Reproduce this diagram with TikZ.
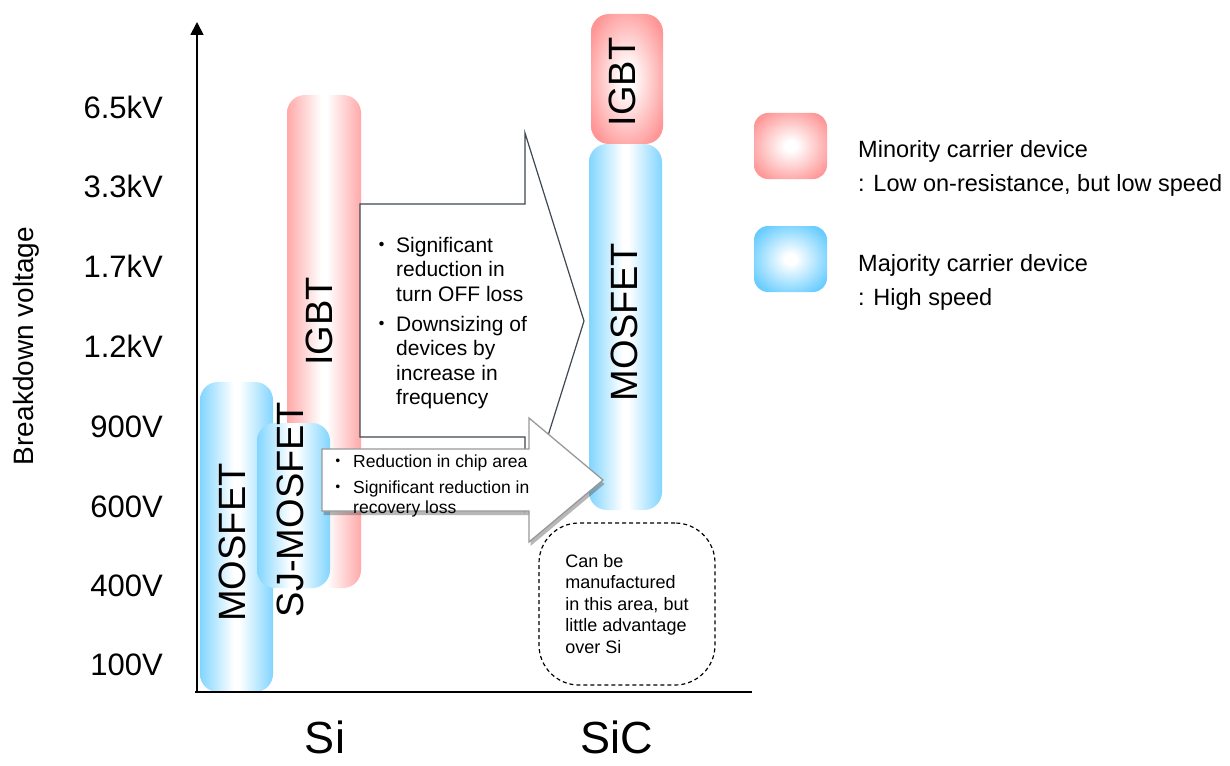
\documentclass[tikz,border=0pt]{standalone}
\usepackage{fontspec}
\setmainfont{Liberation Sans}
\newfontfamily\cjk{Noto Sans CJK JP}
\usetikzlibrary{arrows.meta,shadows}
\definecolor{pk}{RGB}{255,150,150}
\definecolor{bl}{RGB}{102,204,255}
\definecolor{arrowline}{RGB}{64,72,82}
\pgfdeclarehorizontalshading{pinkbar}{100bp}{color(0bp)=(pk); color(20bp)=(pk); color(48bp)=(white); color(52bp)=(white); color(80bp)=(pk); color(100bp)=(pk)}
\pgfdeclarehorizontalshading{bluebar}{100bp}{color(0bp)=(bl); color(20bp)=(bl); color(48bp)=(white); color(52bp)=(white); color(80bp)=(bl); color(100bp)=(bl)}
\pgfdeclareradialshading{pinkglow}{\pgfpoint{0bp}{0bp}}{color(0bp)=(white); color(4bp)=(white); color(30bp)=(pk); color(72bp)=(pk)}
\pgfdeclareradialshading{blueglow}{\pgfpoint{0bp}{0bp}}{color(0bp)=(white); color(4bp)=(white); color(30bp)=(bl); color(72bp)=(bl)}
\newcommand\rows[1]{\begin{tabular}[t]{@{}l@{}l@{}}#1\end{tabular}}
\begin{document}
\begin{tikzpicture}[x=1pt,y=-1pt,
  pinkbarstyle/.style={shade, shading=pinkbar, rounded corners=18pt, inner sep=0pt},
  bluebarstyle/.style={shade, shading=bluebar, rounded corners=18pt, inner sep=0pt},
  barlabel/.style={rotate=90, anchor=base, inner sep=0pt, font=\fontsize{38}{40}\selectfont},
  ticklabel/.style={anchor=base east, inner sep=0pt, font=\fontsize{31}{34}\selectfont},
  matlabel/.style={anchor=base, inner sep=0pt, font=\fontsize{45}{50}\selectfont},
  bigarrowstyle/.style={fill=white, draw=arrowline, line width=1.2pt, line join=miter},
  smallarrowstyle/.style={fill=white, draw=black!40, line width=1.3pt,
     drop shadow={shadow xshift=1.5pt, shadow yshift=-4pt, opacity=.4, fill=black!70}},
  axisline/.style={line width=1.8pt, black},
  legendbox/.style={shade, rounded corners=14pt, minimum width=73pt, minimum height=66pt, inner sep=0pt},
  legendtext/.style={anchor=base west, inner sep=0pt, font=\fontsize{23.5}{34}\selectfont}]
\useasboundingbox (0,0) rectangle (1230,765);
\fill[white] (0,0) rectangle (1230,765);

% Si bars
\node[pinkbarstyle, minimum width=74pt, minimum height=493pt] (siigbt) at (324,341.5) {};
\node[bluebarstyle, minimum width=73pt, minimum height=310pt] (simos) at (236.5,537) {};
\node[bluebarstyle, minimum width=73pt, minimum height=165pt] (sjmos) at (293.5,505.5) {};
\node[barlabel] (siigbtlbl) at (332,321.5) {IGBT};
\node[barlabel] (simoslbl) at (245,542.5) {MOSFET};
\node[barlabel] (sjmoslbl) at (303,509.5) {SJ-MOSFET};

% SiC bars
\node[shade, shading=pinkglow, rounded corners=18pt, inner sep=0pt, minimum width=72pt, minimum height=130pt] (sicigbt) at (627,79) {};
\node[bluebarstyle, minimum width=73pt, minimum height=366pt] (sicmos) at (625.5,327) {};
\node[barlabel] (sicigbtlbl) at (635,82) {IGBT};
\node[barlabel] (sicmoslbl) at (637,322) {MOSFET};

% big arrow
\draw[bigarrowstyle] (360,204) -- (525,204) -- (525,133) -- (584,321) -- (525,509) -- (525,437) -- (360,437) -- cycle;
\node[anchor=base west, inner sep=0pt, font=\fontsize{21}{24.5}\selectfont] (bigtxt) at (371.5,252)
 {\rows{\makebox[24.5pt][l]{\cjk ・}&Significant\\&reduction in\\&turn OFF loss\\[5.5pt]
  \makebox[24.5pt][l]{\cjk ・}&Downsizing of\\&devices by\\&increase in\\&frequency}};

% small arrow
\draw[smallarrowstyle] (322,449) -- (529,449) -- (529,418) -- (603,480) -- (529,542) -- (529,511) -- (322,511) -- cycle;
\node[anchor=base west, inner sep=0pt, font=\fontsize{17.5}{20}\selectfont] (smalltxt) at (329.25,467)
 {\rows{\makebox[23.75pt][l]{\cjk ・}&Reduction in chip area\\[6pt]
  \makebox[23.75pt][l]{\cjk ・}&Significant reduction in\\&recovery loss}};

% note
\node[draw, dash pattern=on 4pt off 3pt, line width=1.2pt, rounded corners=40pt,
  minimum width=176pt, minimum height=162pt, align=left, inner sep=0pt,
  font=\fontsize{18}{21.5}\selectfont] (note) at (627,604)
  {Can be\\manufactured\\in this area, but\\little advantage\\over Si};

% legend
\node[legendbox, shading=pinkglow] (legpink) at (790.5,146) {};
\node[legendbox, shading=blueglow] (legblue) at (790.5,259) {};
\node[legendtext] (legpinktxt) at (858,157) {\rows{Minority carrier device\\: Low on-resistance, but low speed}};
\node[legendtext] (legbluetxt) at (858,271) {\rows{Majority carrier device\\: High speed}};

% axes
\coordinate (O) at (197,692);
\coordinate (ytip) at (197,22);
\coordinate (xstart) at (195,692);
\coordinate (xend) at (752,692);
\draw[axisline, -{Triangle[width=13pt,length=13pt]}] (O) -- (ytip);
\draw[axisline] (xstart) -- (xend);

% tick labels
\node[ticklabel] (t65) at (163,118) {6.5kV};
\node[ticklabel] (t33) at (163,197) {3.3kV};
\node[ticklabel] (t17) at (163,277) {1.7kV};
\node[ticklabel] (t12) at (163,357) {1.2kV};
\node[ticklabel] (t900) at (163,437) {900V};
\node[ticklabel] (t600) at (163,517) {600V};
\node[ticklabel] (t400) at (163,596) {400V};
\node[ticklabel] (t100) at (163,675) {100V};
\node[rotate=90, anchor=base, inner sep=0pt, font=\fontsize{28}{30}\selectfont] (ylabel) at (33.5,346) {Breakdown voltage};

\node[matlabel] (si) at (325,753) {Si};
\node[matlabel] (sic) at (617,753) {SiC};
\end{tikzpicture}
\end{document}
